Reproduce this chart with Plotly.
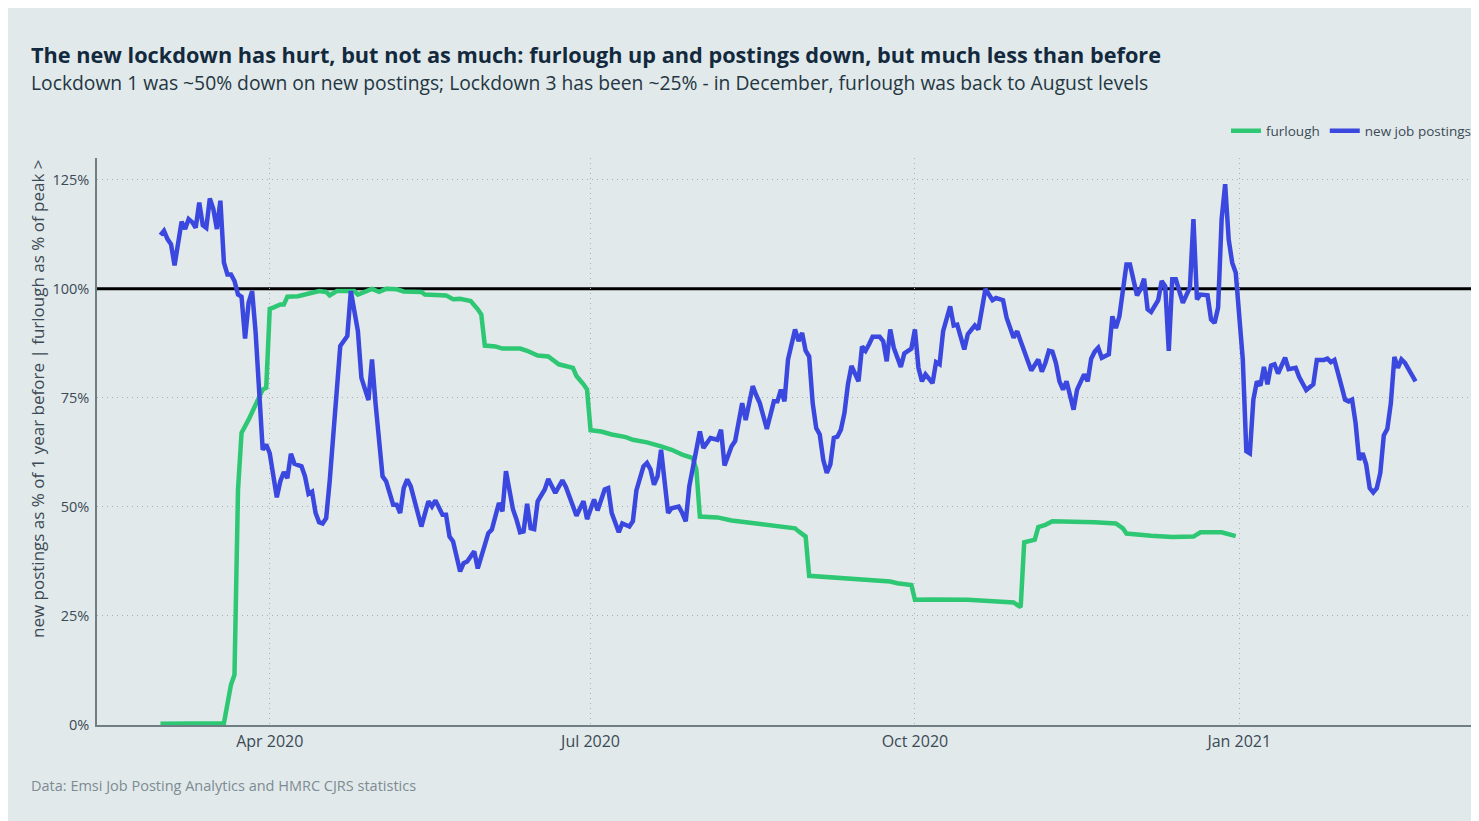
import plotly.graph_objects as go

# ---------------- data ----------------
posting_dates = [
    "2020-03-01", "2020-03-02", "2020-03-03", "2020-03-04", "2020-03-05", "2020-03-06", "2020-03-07",
    "2020-03-08", "2020-03-09", "2020-03-10", "2020-03-11", "2020-03-12", "2020-03-13", "2020-03-14",
    "2020-03-15", "2020-03-16", "2020-03-17", "2020-03-18", "2020-03-19", "2020-03-20", "2020-03-21",
    "2020-03-22", "2020-03-23", "2020-03-24", "2020-03-25", "2020-03-26", "2020-03-27", "2020-03-28",
    "2020-03-29", "2020-03-30", "2020-03-31", "2020-04-01", "2020-04-03", "2020-04-04", "2020-04-05",
    "2020-04-06", "2020-04-07", "2020-04-08", "2020-04-10", "2020-04-11", "2020-04-12", "2020-04-13",
    "2020-04-14", "2020-04-15", "2020-04-16", "2020-04-17", "2020-04-18", "2020-04-19", "2020-04-20",
    "2020-04-21", "2020-04-23", "2020-04-24", "2020-04-26", "2020-04-27", "2020-04-29", "2020-04-30",
    "2020-05-01", "2020-05-03", "2020-05-04", "2020-05-05", "2020-05-06", "2020-05-07", "2020-05-08",
    "2020-05-09", "2020-05-10", "2020-05-11", "2020-05-14", "2020-05-16", "2020-05-17", "2020-05-18",
    "2020-05-20", "2020-05-21", "2020-05-22", "2020-05-23", "2020-05-25", "2020-05-26", "2020-05-27",
    "2020-05-29", "2020-05-30", "2020-06-02", "2020-06-03", "2020-06-05", "2020-06-06", "2020-06-07",
    "2020-06-09", "2020-06-10", "2020-06-11", "2020-06-12", "2020-06-13", "2020-06-14", "2020-06-15",
    "2020-06-16", "2020-06-18", "2020-06-19", "2020-06-21", "2020-06-23", "2020-06-24", "2020-06-27",
    "2020-06-29", "2020-06-30", "2020-07-01", "2020-07-02", "2020-07-03", "2020-07-05", "2020-07-06",
    "2020-07-07", "2020-07-09", "2020-07-10", "2020-07-12", "2020-07-13", "2020-07-14", "2020-07-16",
    "2020-07-17", "2020-07-18", "2020-07-19", "2020-07-20", "2020-07-21", "2020-07-22", "2020-07-23",
    "2020-07-24", "2020-07-26", "2020-07-27", "2020-07-28", "2020-07-29", "2020-07-30", "2020-07-31",
    "2020-08-01", "2020-08-02", "2020-08-04", "2020-08-06", "2020-08-07", "2020-08-08", "2020-08-10",
    "2020-08-11", "2020-08-13", "2020-08-14", "2020-08-16", "2020-08-17", "2020-08-18", "2020-08-20",
    "2020-08-22", "2020-08-23", "2020-08-24", "2020-08-25", "2020-08-26", "2020-08-28", "2020-08-29",
    "2020-08-30", "2020-08-31", "2020-09-01", "2020-09-02", "2020-09-03", "2020-09-04", "2020-09-05",
    "2020-09-06", "2020-09-07", "2020-09-08", "2020-09-09", "2020-09-10", "2020-09-11", "2020-09-12",
    "2020-09-13", "2020-09-15", "2020-09-16", "2020-09-17", "2020-09-18", "2020-09-19", "2020-09-21",
    "2020-09-22", "2020-09-23", "2020-09-24", "2020-09-25", "2020-09-27", "2020-09-28", "2020-09-30",
    "2020-10-01", "2020-10-02", "2020-10-03", "2020-10-04", "2020-10-06", "2020-10-07", "2020-10-08",
    "2020-10-09", "2020-10-11", "2020-10-12", "2020-10-13", "2020-10-15", "2020-10-16", "2020-10-18",
    "2020-10-19", "2020-10-20", "2020-10-21", "2020-10-23", "2020-10-24", "2020-10-26", "2020-10-27",
    "2020-10-29", "2020-10-30", "2020-10-31", "2020-11-02", "2020-11-03", "2020-11-05", "2020-11-06",
    "2020-11-07", "2020-11-08", "2020-11-09", "2020-11-10", "2020-11-11", "2020-11-12", "2020-11-13",
    "2020-11-15", "2020-11-16", "2020-11-18", "2020-11-19", "2020-11-20", "2020-11-21", "2020-11-22",
    "2020-11-23", "2020-11-25", "2020-11-26", "2020-11-27", "2020-11-28", "2020-11-30", "2020-12-01",
    "2020-12-03", "2020-12-04", "2020-12-05", "2020-12-06", "2020-12-07", "2020-12-09", "2020-12-10",
    "2020-12-11", "2020-12-12", "2020-12-13", "2020-12-14", "2020-12-16", "2020-12-17", "2020-12-18",
    "2020-12-19", "2020-12-20", "2020-12-21", "2020-12-23", "2020-12-24", "2020-12-25", "2020-12-26",
    "2020-12-27", "2020-12-28", "2020-12-29", "2020-12-30", "2020-12-31", "2021-01-02", "2021-01-03",
    "2021-01-04", "2021-01-05", "2021-01-06", "2021-01-07", "2021-01-08", "2021-01-09", "2021-01-10",
    "2021-01-11", "2021-01-12", "2021-01-14", "2021-01-15", "2021-01-17", "2021-01-18", "2021-01-20",
    "2021-01-22", "2021-01-23", "2021-01-25", "2021-01-26", "2021-01-27", "2021-01-28", "2021-01-30",
    "2021-01-31", "2021-02-01", "2021-02-02", "2021-02-03", "2021-02-04", "2021-02-05", "2021-02-06",
    "2021-02-07", "2021-02-08", "2021-02-09", "2021-02-10", "2021-02-11", "2021-02-12", "2021-02-13",
    "2021-02-14", "2021-02-15", "2021-02-16", "2021-02-17", "2021-02-18", "2021-02-20",
]
postings_pct = [
    112.3, 113.3, 111.4, 110.2, 105.4, 110.6, 115.4,
    113.7, 116.0, 115.3, 114.0, 119.8, 114.6, 114.0,
    120.7, 118.3, 113.7, 120.2, 106.0, 103.3, 103.3,
    101.8, 98.7, 98.2, 88.6, 96.8, 99.5, 89.9,
    77.7, 63.1, 64.3, 62.3, 52.2, 55.9, 58.0,
    56.6, 62.2, 59.9, 59.3, 57.0, 53.0, 53.5,
    48.6, 46.5, 46.2, 47.4, 55.9, 65.4, 75.0,
    86.9, 89.2, 99.5, 90.3, 79.6, 74.5, 83.8,
    73.8, 57.0, 55.9, 52.8, 50.5, 50.5, 48.6,
    54.3, 56.3, 54.7, 45.5, 51.3, 50.1, 51.5,
    48.2, 48.2, 43.2, 42.1, 35.2, 37.1, 37.5,
    39.8, 35.9, 44.0, 44.8, 50.9, 49.0, 58.2,
    49.4, 47.1, 44.2, 44.4, 50.7, 45.1, 44.9,
    51.3, 54.0, 56.4, 53.2, 56.1, 54.6, 48.0,
    51.3, 47.2, 49.4, 51.7, 49.2, 54.0, 54.3,
    48.6, 44.2, 46.2, 45.5, 46.7, 53.8, 59.3,
    60.1, 58.6, 55.1, 57.0, 63.1, 55.5, 48.6,
    49.7, 50.1, 48.6, 46.7, 54.7, 58.6, 63.1,
    67.3, 63.5, 65.8, 65.4, 67.7, 59.5, 63.9,
    65.1, 73.8, 69.9, 77.7, 75.6, 73.8, 67.9,
    74.2, 74.2, 76.9, 74.2, 83.8, 90.7, 88.0,
    89.9, 85.8, 84.5, 73.8, 68.1, 66.6, 60.8,
    57.8, 59.7, 65.8, 66.1, 67.7, 71.5, 78.1,
    82.3, 78.8, 86.8, 85.8, 87.3, 89.0, 89.0,
    88.0, 83.4, 90.7, 86.5, 82.1, 85.2, 86.3,
    90.7, 81.9, 78.8, 80.4, 78.4, 83.2, 82.7,
    90.3, 96.0, 91.6, 91.8, 86.1, 89.6, 91.6,
    90.7, 95.7, 100.0, 97.4, 97.9, 97.4, 93.4,
    88.8, 90.3, 88.0, 83.8, 81.3, 83.8, 81.0,
    83.0, 85.8, 85.6, 83.0, 78.8, 76.9, 78.8,
    72.3, 76.9, 80.4, 78.8, 84.0, 85.6, 86.5,
    84.2, 85.0, 93.7, 91.0, 93.7, 105.6, 105.6,
    98.5, 99.9, 102.3, 95.3, 94.7, 97.4, 101.8,
    100.6, 85.8, 102.2, 102.2, 96.8, 98.5, 100.3,
    116.0, 97.6, 98.7, 98.5, 93.0, 92.2, 95.7,
    116.0, 124.0, 111.3, 106.0, 103.7, 83.8, 62.8,
    62.3, 74.6, 78.8, 77.8, 82.1, 78.1, 82.4,
    82.7, 80.6, 84.2, 81.6, 81.9, 79.8, 76.8,
    78.1, 83.7, 83.7, 84.0, 83.2, 83.7, 77.7,
    74.6, 74.2, 74.6, 69.2, 60.8, 62.3, 59.7,
    54.3, 53.3, 54.3, 57.8, 66.4, 67.9, 73.8,
    84.4, 81.9, 83.8, 83.0, 81.5, 78.8,
]

furlough_dates = [
    "2020-03-01", "2020-03-19", "2020-03-21", "2020-03-22", "2020-03-23", "2020-03-24", "2020-03-26",
    "2020-03-28", "2020-03-30", "2020-03-31", "2020-04-01", "2020-04-02", "2020-04-04", "2020-04-05",
    "2020-04-06", "2020-04-09", "2020-04-11", "2020-04-13", "2020-04-15", "2020-04-17", "2020-04-18",
    "2020-04-20", "2020-04-25", "2020-04-26", "2020-04-29", "2020-04-30", "2020-05-02", "2020-05-04",
    "2020-05-07", "2020-05-09", "2020-05-14", "2020-05-15", "2020-05-21", "2020-05-23", "2020-05-25",
    "2020-05-28", "2020-05-30", "2020-05-31", "2020-06-01", "2020-06-04", "2020-06-06", "2020-06-11",
    "2020-06-13", "2020-06-16", "2020-06-19", "2020-06-22", "2020-06-26", "2020-06-27", "2020-06-29",
    "2020-06-30", "2020-07-01", "2020-07-04", "2020-07-07", "2020-07-11", "2020-07-13", "2020-07-17",
    "2020-07-21", "2020-07-24", "2020-07-27", "2020-07-30", "2020-07-31", "2020-08-01", "2020-08-06",
    "2020-08-10", "2020-08-17", "2020-08-25", "2020-08-28", "2020-08-29", "2020-08-31", "2020-09-01",
    "2020-09-07", "2020-09-13", "2020-09-15", "2020-09-24", "2020-09-26", "2020-09-30", "2020-10-01",
    "2020-10-06", "2020-10-16", "2020-10-29", "2020-10-31", "2020-11-01", "2020-11-04", "2020-11-05",
    "2020-11-07", "2020-11-09", "2020-11-21", "2020-11-27", "2020-11-29", "2020-11-30", "2020-12-07",
    "2020-12-13", "2020-12-19", "2020-12-21", "2020-12-27", "2020-12-31",
]
furlough_pct = [
    0.3, 0.4, 9.2, 11.5, 54.0, 67.0, 70.0,
    73.5, 76.9, 77.3, 95.4, 95.7, 96.4, 96.4,
    98.2, 98.3, 98.7, 99.0, 99.5, 99.3, 98.5,
    99.5, 99.5, 98.7, 99.5, 100.0, 99.3, 100.0,
    99.9, 99.4, 99.3, 98.7, 98.5, 97.6, 97.7,
    97.2, 95.3, 94.1, 87.0, 86.8, 86.3, 86.3,
    85.8, 84.7, 84.5, 82.7, 81.9, 80.0, 78.1,
    76.9, 67.6, 67.3, 66.6, 66.0, 65.4, 64.8,
    63.9, 63.1, 62.0, 61.2, 58.6, 47.8, 47.6,
    46.9, 46.2, 45.3, 45.1, 44.4, 43.2, 34.2,
    33.8, 33.5, 33.3, 32.9, 32.5, 32.1, 28.7,
    28.8, 28.7, 28.1, 27.0, 41.9, 42.5, 45.4,
    45.9, 46.7, 46.5, 46.2, 45.1, 43.9, 43.4,
    43.1, 43.2, 44.2, 44.2, 43.3,
]

y_tick_values = [0, 25, 50, 75, 100, 125]
y_tick_labels = ["0%", "25%", "50%", "75%", "100%", "125%"]
y_grid_values = [25, 50, 75, 125]
reference_level = 100

title_text = "The new lockdown has hurt, but not as much: furlough up and postings down, but much less than before"
subtitle_text = ("Lockdown 1 was ~50% down on new postings; Lockdown 3 has been ~25% - "
                 "in December, furlough was back to August levels")
y_title_text = "new postings as % of 1 year before | furlough as % of peak >"
source_text = "Data: Emsi Job Posting Analytics and HMRC CJRS statistics"

# ---------------- style ----------------
BG = "#e1e9ea"
GREEN = "#2ec774"
BLUE = "#3b48df"
TEXT = "#3b4a55"
GRID = "#a6b1b5"
FONT = "Open Sans"

OFF = 8                      # page body margin
W, H = 1479 - OFF, 821 - OFF
ML, MR, MT, MB = 97 - OFF, 0, 158 - OFF, 821 - 725
PW, PH = W - ML - MR, H - MT - MB


def px(x):  # screen x -> paper
    return (x - OFF - ML) / PW


def py(y):  # screen y -> paper
    return (H + OFF - MB - y) / PH


fig = go.Figure()
fig.add_trace(go.Scatter(
    x=furlough_dates, y=furlough_pct, mode="lines", name="furlough",
    line=dict(color=GREEN, width=4.5),
))
fig.add_trace(go.Scatter(
    x=posting_dates, y=postings_pct, mode="lines", name="new job postings",
    line=dict(color=BLUE, width=4.5),
))

fig.add_shape(type="line", xref="paper", x0=0, x1=1, yref="y",
              y0=reference_level, y1=reference_level,
              line=dict(color="black", width=3), layer="between")

annotations = [
    dict(text="<b>" + title_text + "</b>", x=px(29), y=py(54), xanchor="left", yanchor="middle",
         font=dict(size=21.7, color="#13293d", family=FONT)),
    dict(text=subtitle_text, x=px(29), y=py(83), xanchor="left", yanchor="middle",
         font=dict(size=19.3, color="#243642", family=FONT)),
    dict(text=y_title_text, x=px(37), y=py(399), xanchor="center", yanchor="middle",
         textangle=-90, font=dict(size=17, color=TEXT, family=FONT)),
    dict(text=source_text, x=px(29), y=py(785), xanchor="left", yanchor="middle",
         font=dict(size=14.5, color="#7d8b93", family=FONT)),
]
for a in annotations:
    a.update(xref="paper", yref="paper", showarrow=False)

fig.update_layout(
    width=W, height=H,
    margin=dict(l=ML, r=MR, t=MT, b=MB, pad=0),
    paper_bgcolor=BG, plot_bgcolor=BG,
    font=dict(family=FONT, color=TEXT, size=15),
    annotations=annotations,
    showlegend=True,
    legend=dict(orientation="h", x=px(1476), xanchor="right", y=py(131), yanchor="middle",
                font=dict(size=13.5, color=TEXT, family=FONT), itemwidth=30,
                bgcolor="rgba(0,0,0,0)", traceorder="normal"),
    hovermode=False,
)

fig.update_xaxes(
    type="date", range=["2020-02-12", "2021-03-10"],
    tick0="2020-01-01", dtick="M3", tickformat="%b %Y",
    showgrid=True, gridcolor=GRID, griddash="1px,4px", gridwidth=1,
    showline=True, linecolor="#6f7d84", linewidth=1.5,
    ticks="outside", ticklen=1, tickcolor=BG,
    tickfont=dict(size=16, color=TEXT), zeroline=False,
)
fig.update_yaxes(
    range=[0, 130], tickvals=y_tick_values, ticktext=y_tick_labels,
    showgrid=False,
    minor=dict(tickvals=y_grid_values, showgrid=True, gridcolor=GRID,
               griddash="1px,4px", gridwidth=1, ticks=""),
    showline=True, linecolor="#6f7d84", linewidth=1.5,
    ticks="outside", ticklen=3, tickcolor=BG,
    tickfont=dict(size=14.5, color=TEXT), zeroline=False,
)

fig.write_html(
    "out.html",
    post_script="document.documentElement.style.overflow='hidden';document.body.style.overflow='hidden';",
)
